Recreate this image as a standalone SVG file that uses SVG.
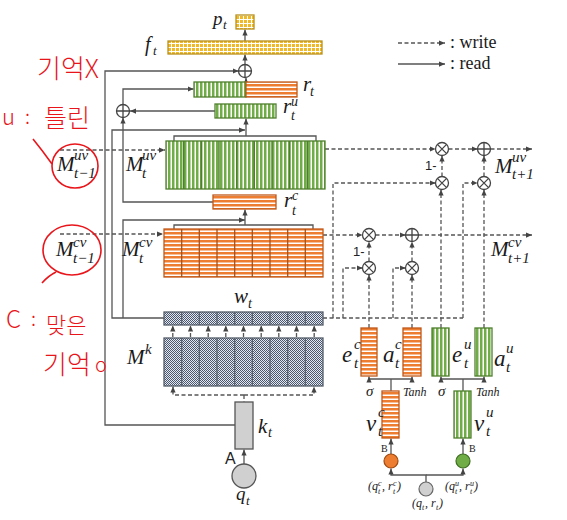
<svg xmlns="http://www.w3.org/2000/svg" width="567" height="520" viewBox="0 0 567 520">
<defs>
<pattern id="pv" width="4" height="4" patternUnits="userSpaceOnUse"><rect width="4" height="4" fill="#fff"/><rect width="2.5" height="4" fill="#70ad47"/></pattern>
<pattern id="ph" width="4" height="4" patternUnits="userSpaceOnUse"><rect width="4" height="4" fill="#fff"/><rect width="4" height="2.5" fill="#ed7d31"/></pattern>
<pattern id="pg" width="4" height="4" patternUnits="userSpaceOnUse"><rect width="4" height="4" fill="#fff"/><rect width="3" height="3" fill="#f0b92a"/></pattern>
<pattern id="pc" width="2" height="2" patternUnits="userSpaceOnUse"><rect width="2" height="2" fill="#e4e8ee"/><rect width="1" height="1" fill="#4a5870"/><rect x="1" y="1" width="1" height="1" fill="#4a5870"/></pattern>
<marker id="ah" viewBox="0 0 8 8" refX="8" refY="4" markerWidth="6" markerHeight="6" markerUnits="userSpaceOnUse" orient="auto"><path d="M0,0.5 L8,4 L0,7.5 z" fill="#444"/></marker>
<g id="ot"><circle r="6.5" fill="#fff" stroke="#444" stroke-width="1.3"/><path d="M-4.6,-4.6 L4.6,4.6 M-4.6,4.6 L4.6,-4.6" stroke="#444" stroke-width="1.3"/></g>
<g id="op"><circle r="6.5" fill="#fff" stroke="#444" stroke-width="1.3"/><path d="M-6.5,0 H6.5 M0,-6.5 V6.5" stroke="#444" stroke-width="1.3"/></g>
</defs>
<style>
.s{fill:none;stroke:#555;stroke-width:1.3}
.d{fill:none;stroke:#555;stroke-width:1.3;stroke-dasharray:4 2.5}
.a{marker-end:url(#ah)}
.gr{fill:url(#pv);stroke:#4f7f2c;stroke-width:1.3}
.or{fill:url(#ph);stroke:#c0581a;stroke-width:1.3}
.yl{fill:url(#pg);stroke:#b8901a;stroke-width:1.3}
.ck{fill:url(#pc);stroke:#555e6a;stroke-width:1.3}
.sg{fill:none;stroke:#4f7f2c;stroke-width:1.4}
.so{fill:none;stroke:#a8501a;stroke-width:1.3}
.sk{fill:none;stroke:#555e6a;stroke-width:1.2}
.m{font-family:"Liberation Serif","DejaVu Serif",serif;font-style:italic;fill:#1a1a1a}
.n{font-family:"Liberation Sans",sans-serif;fill:#222}
.lg{font-family:"Liberation Serif",serif;fill:#1a1a1a;font-size:18px}
.b{font-family:"Liberation Serif",serif;fill:#1a1a1a;font-size:10px}
.q{font-family:"Liberation Serif",serif;font-style:italic;fill:#1a1a1a;font-size:12px}
.qs{font-family:"Liberation Serif",serif;font-style:italic;fill:#1a1a1a;font-size:8px}
.r{font-family:"Noto Sans CJK KR","Noto Sans",sans-serif;fill:#e8151b;font-weight:300}
.rs{fill:none;stroke:#e8151b;stroke-width:1.6}
</style>
<rect width="567" height="520" fill="#fff"/>

<g id="connectors">
  <path class="s a" d="M235,425 H105 V71 H238.5"/>
  <path class="s a" d="M245,64.5 V54.5"/>
  <path class="s a" d="M245,41 V29.5"/>
  <path class="s a" d="M246,82 V78"/>
  <path class="s a" d="M123,104.5 V89 H193.5"/>
  <path class="s a" d="M215,111 H130"/>
  <path class="s a" d="M213,202 H123 V117.5"/>
  <path class="s a" d="M164,318 H112 V130 H245"/>
  <path class="s" d="M174,141 V136 H316 V141"/>
  <path class="s a" d="M246,136 V118.5"/>
  <path class="s a" d="M123,318 V220 H245"/>
  <path class="s" d="M174,229 V225 H313 V229"/>
  <path class="s a" d="M245,225 V209.5"/>
  <path class="s a" d="M244,464 V449.5"/>
  <path class="s" d="M391,391 V379"/>
  <path class="s a" d="M391,379 H369 V376.5"/>
  <path class="s a" d="M391,379 H412 V376.5"/>
  <path class="s" d="M463,391 V379"/>
  <path class="s a" d="M463,379 H441 V376.5"/>
  <path class="s a" d="M463,379 H484 V376.5"/>
  <path class="s a" d="M391,454 V438.5"/>
  <path class="s a" d="M463,454 V438.5"/>
  <path class="s a" d="M426,482 V475 H391 V468.5"/>
  <path class="s a" d="M426,475 H463 V468.5"/>
  <path class="d a" d="M60,150 H165"/>
  <path class="d a" d="M60,234 H163"/>
  <path class="d a" d="M325,149 H435.5"/>
  <path class="d a" d="M448.5,149 H477.5"/>
  <path class="d a" d="M490.5,149 H532"/>
  <path class="d a" d="M442,176.5 V155.5"/>
  <path class="d a" d="M484,176.5 V155.5"/>
  <path class="d a" d="M333,318 V183 H435.5"/>
  <path class="d a" d="M463,318 V183 H477.5"/>
  <path class="d a" d="M441,328 V189.5"/>
  <path class="d a" d="M484,328 V189.5"/>
  <path class="d a" d="M323,235 H362.5"/>
  <path class="d a" d="M375.5,235 H405.5"/>
  <path class="d a" d="M418.5,235 H532"/>
  <path class="d a" d="M369,261.5 V241.5"/>
  <path class="d a" d="M412,261.5 V241.5"/>
  <path class="d a" d="M343,318 V268 H362.5"/>
  <path class="d a" d="M393,318 V268 H405.5"/>
  <path class="d a" d="M369,328 V274.5"/>
  <path class="d a" d="M412,328 V274.5"/>
  <path class="d" d="M323,318 H463"/>
  <path class="d a" d="M172.8,337 V325.5"/>
  <path class="d a" d="M190.5,337 V325.5"/>
  <path class="d a" d="M208.2,337 V325.5"/>
  <path class="d a" d="M225.8,337 V325.5"/>
  <path class="d a" d="M243.5,337 V325.5"/>
  <path class="d a" d="M261.2,337 V325.5"/>
  <path class="d a" d="M278.8,337 V325.5"/>
  <path class="d a" d="M296.5,337 V325.5"/>
  <path class="d a" d="M314.2,337 V325.5"/>
  <path class="d a" d="M244,395 H173 V386.5"/>
  <path class="d a" d="M244,395 H314 V386.5"/>
  <path class="d" d="M244,395 V402"/>
</g>

<g id="legend">
  <path class="d a" d="M398,43 H445"/>
  <text class="lg" x="450" y="48">: write</text>
  <path class="s a" d="M398,64 H445"/>
  <text class="lg" x="450" y="69">: read</text>
</g>

<g id="p_t">
  <rect class="yl" x="236" y="15" width="18" height="14"/>
  <text class="m" x="213" y="25" font-size="19">p</text><text class="m" x="223" y="29" font-size="13">t</text>
</g>
<g id="f_t">
  <rect class="yl" x="168" y="41" width="154" height="13"/>
  <text class="m" x="145" y="51" font-size="20">f</text><text class="m" x="153" y="55" font-size="13">t</text>
</g>
<g id="sum_top"><use href="#op" x="245" y="71"/></g>
<g id="r_t">
  <rect class="gr" x="194" y="82" width="52" height="15"/>
  <rect class="or" x="246" y="82" width="51" height="15"/>
  <text class="m" x="303" y="91" font-size="21">r</text><text class="m" x="310" y="96" font-size="14">t</text>
</g>
<g id="sum_left"><use href="#op" x="123" y="111"/></g>
<g id="r_u">
  <rect class="gr" x="215" y="104" width="61" height="14"/>
  <text class="m" x="283" y="113" font-size="21">r</text><text class="m" x="291" y="106" font-size="14">u</text><text class="m" x="291" y="120" font-size="14">t</text>
</g>
<g id="M_uv">
  <rect class="gr" x="166" y="141" width="159" height="48"/>
  <path class="sg" d="M183.7,141V189M201.3,141V189M219,141V189M236.7,141V189M254.3,141V189M272,141V189M289.7,141V189M307.3,141V189"/>
  <text class="m" x="126" y="171" font-size="21">M</text><text class="m" x="142" y="160" font-size="15">uv</text><text class="m" x="142" y="178" font-size="15">t</text>
</g>
<g id="M_uv_prev">
  <text class="m" x="57" y="171" font-size="21">M</text><text class="m" x="74" y="160" font-size="15">uv</text><text class="m" x="74" y="178" font-size="15">t−1</text>
</g>
<g id="r_c">
  <rect class="or" x="213" y="195" width="63" height="14"/>
  <text class="m" x="284" y="207" font-size="21">r</text><text class="m" x="292" y="200" font-size="14">c</text><text class="m" x="292" y="215" font-size="14">t</text>
</g>
<g id="M_cv">
  <rect class="or" x="164" y="229" width="159" height="48"/>
  <path class="so" d="M181.7,229V277M199.3,229V277M217,229V277M234.7,229V277M252.3,229V277M270,229V277M287.7,229V277M305.3,229V277"/>
  <text class="m" x="122" y="256" font-size="21">M</text><text class="m" x="139" y="247" font-size="15">cv</text><text class="m" x="139" y="263" font-size="15">t</text>
</g>
<g id="M_cv_prev">
  <text class="m" x="56" y="256" font-size="21">M</text><text class="m" x="73" y="247" font-size="15">cv</text><text class="m" x="73" y="263" font-size="15">t−1</text>
</g>
<g id="w_t">
  <rect class="ck" x="164" y="312" width="159" height="13"/>
  <path class="sk" d="M181.7,312V325M199.3,312V325M217,312V325M234.7,312V325M252.3,312V325M270,312V325M287.7,312V325M305.3,312V325"/>
  <text class="m" x="234" y="303" font-size="21">w</text><text class="m" x="248" y="308" font-size="14">t</text>
</g>
<g id="M_k">
  <rect class="ck" x="164" y="338" width="159" height="48"/>
  <path class="sk" d="M181.7,338V386M199.3,338V386M217,338V386M234.7,338V386M252.3,338V386M270,338V386M287.7,338V386M305.3,338V386"/>
  <text class="m" x="127" y="364" font-size="21">M</text><text class="m" x="145" y="354" font-size="15">k</text>
</g>
<g id="k_t">
  <rect x="235" y="402" width="18" height="47" fill="#d0d0d0" stroke="#555" stroke-width="1.3"/>
  <text class="m" x="258" y="433" font-size="21">k</text><text class="m" x="268" y="437" font-size="14">t</text>
  <text class="n" x="225" y="464" font-size="16">A</text>
</g>
<g id="q_t">
  <circle cx="244" cy="476" r="12" fill="#d0d0d0" stroke="#555" stroke-width="1.3"/>
  <text class="m" x="236" y="500" font-size="19">q</text><text class="m" x="246" y="505" font-size="13">t</text>
</g>

<g id="mul_uv1"><use href="#ot" x="442" y="149"/></g>
<g id="sum_uv"><use href="#op" x="484" y="149"/></g>
<g id="mul_uv2"><use href="#ot" x="442" y="183"/></g>
<g id="mul_uv3"><use href="#ot" x="484" y="183"/></g>
<text class="n" x="425" y="170" font-size="13">1-</text>
<g id="M_uv_next">
  <text class="m" x="495" y="173" font-size="21">M</text><text class="m" x="512" y="162" font-size="15">uv</text><text class="m" x="512" y="179" font-size="15">t+1</text>
</g>
<g id="mul_cv1"><use href="#ot" x="369" y="235"/></g>
<g id="sum_cv"><use href="#op" x="412" y="235"/></g>
<g id="mul_cv2"><use href="#ot" x="369" y="268"/></g>
<g id="mul_cv3"><use href="#ot" x="412" y="268"/></g>
<text class="n" x="353" y="256" font-size="13">1-</text>
<g id="M_cv_next">
  <text class="m" x="491" y="256" font-size="21">M</text><text class="m" x="508" y="247" font-size="15">cv</text><text class="m" x="508" y="263" font-size="15">t+1</text>
</g>

<g id="e_c">
  <rect class="or" x="361" y="328" width="16" height="48"/>
  <text class="m" x="342" y="362" font-size="23">e</text><text class="m" x="354" y="349" font-size="15">c</text><text class="m" x="354" y="368" font-size="15">t</text>
</g>
<g id="a_c">
  <rect class="or" x="403" y="328" width="18" height="48"/>
  <text class="m" x="383" y="362" font-size="23">a</text><text class="m" x="395" y="349" font-size="15">c</text><text class="m" x="395" y="368" font-size="15">t</text>
</g>
<g id="e_u">
  <rect class="gr" x="432" y="328" width="17" height="48"/>
  <text class="m" x="452" y="362" font-size="23">e</text><text class="m" x="464" y="349" font-size="15">u</text><text class="m" x="464" y="368" font-size="15">t</text>
</g>
<g id="a_u">
  <rect class="gr" x="475" y="328" width="17" height="48"/>
  <text class="m" x="494" y="366" font-size="23">a</text><text class="m" x="506" y="353" font-size="15">u</text><text class="m" x="506" y="372" font-size="15">t</text>
</g>
<text class="m" x="366" y="396" font-size="15">σ</text>
<text class="m" x="403" y="396" font-size="12">Tanh</text>
<text class="m" x="438" y="396" font-size="15">σ</text>
<text class="m" x="476" y="396" font-size="12">Tanh</text>
<g id="v_c">
  <rect class="or" x="382" y="391" width="17" height="47"/>
  <text class="m" x="366" y="431" font-size="23">v</text><text class="m" x="378" y="417" font-size="15">c</text><text class="m" x="378" y="436" font-size="15">t</text>
</g>
<g id="v_u">
  <rect class="gr" x="454" y="391" width="17" height="47"/>
  <text class="m" x="474" y="431" font-size="23">v</text><text class="m" x="486" y="417" font-size="15">u</text><text class="m" x="486" y="436" font-size="15">t</text>
</g>
<g id="B_c">
  <circle cx="391" cy="461" r="7" fill="#ed7d31" stroke="#a04a10" stroke-width="1.2"/>
  <text class="b" x="381" y="452">B</text>
  <text class="q" x="368" y="490">(q</text><text class="qs" x="378" y="486">c</text><text class="qs" x="378" y="494">t</text>
  <text class="q" x="382" y="490">, r</text><text class="qs" x="393" y="486">c</text><text class="qs" x="393" y="494">t</text>
  <text class="q" x="397" y="490">)</text>
</g>
<g id="B_u">
  <circle cx="463" cy="461" r="7" fill="#70ad47" stroke="#3f6e22" stroke-width="1.2"/>
  <text class="b" x="469" y="452">B</text>
  <text class="q" x="445" y="490">(q</text><text class="qs" x="455" y="486">u</text><text class="qs" x="455" y="494">t</text>
  <text class="q" x="459" y="490">, r</text><text class="qs" x="470" y="486">u</text><text class="qs" x="470" y="494">t</text>
  <text class="q" x="474" y="490">)</text>
</g>
<g id="qr">
  <circle cx="426" cy="489" r="7" fill="#d0d0d0" stroke="#666" stroke-width="1.2"/>
  <text class="q" x="412" y="507">(q</text><text class="qs" x="422" y="510">t</text>
  <text class="q" x="425" y="507">, r</text><text class="qs" x="436" y="510">t</text>
  <text class="q" x="439" y="507">)</text>
</g>

<g id="annotations">
  <text class="r" x="37" y="78" font-size="26">기억X</text>
  <text class="r" x="2" y="125" font-size="22">u</text>
  <text class="r" x="25" y="124" font-size="20">:</text>
  <text class="r" x="44" y="127" font-size="25">틀린</text>
  <ellipse class="rs" cx="75" cy="166" rx="23" ry="22"/>
  <path class="rs" d="M33,139 Q42,150 52,164"/>
  <ellipse class="rs" cx="72" cy="250" rx="29" ry="25"/>
  <path class="rs" d="M42,283 Q48,276 56,272"/>
  <text class="r" x="6" y="328" font-size="24">C</text>
  <text class="r" x="31" y="326" font-size="20">:</text>
  <text class="r" x="46" y="333" font-size="22">맞은</text>
  <text class="r" x="43" y="374" font-size="26">기억</text>
  <text class="r" x="95" y="372" font-size="20">o</text>
</g>
</svg>
